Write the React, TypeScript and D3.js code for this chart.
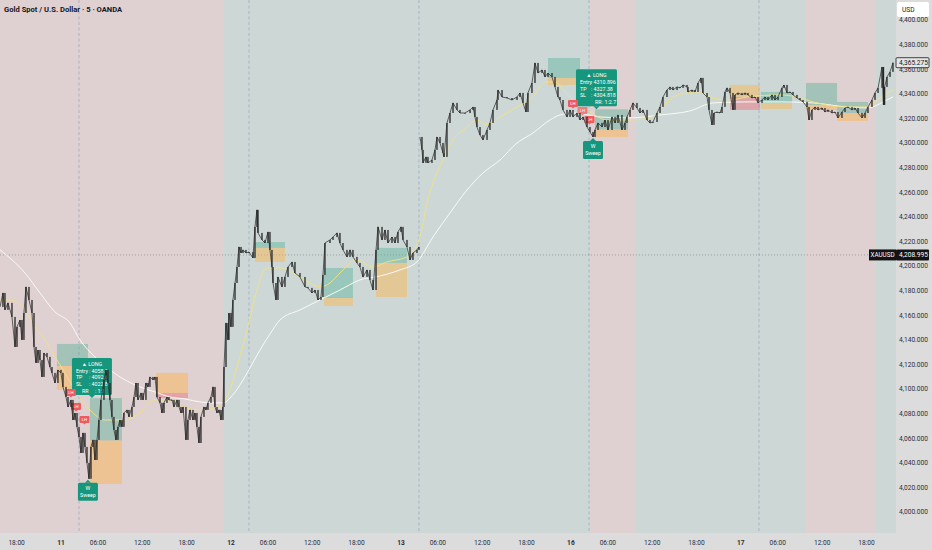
import * as d3 from 'd3'

// ---- data ----
const title = 'Gold Spot / U.S. Dollar · 5 · OANDA'

// trading hours since the "11" session open, price
const priceTrail: [number, number][] = [
  [-8.25,4166.7],[-7.85,4178.1],[-7.58,4164.3],[-7.17,4170.0],[-6.63,4158.6],[-6.22,4134.2],[-5.95,4150.5],[-5.55,4156.1],
  [-5.28,4139.9],[-5.01,4161.8],[-4.74,4183.0],[-4.33,4172.4],[-3.92,4161.8],[-3.65,4134.2],[-3.38,4121.2],[-3.11,4131.7],
  [-2.84,4123.6],[-2.57,4109.8],[-2.30,4129.3],[-1.89,4126.1],[-1.49,4117.9],[-1.22,4113.1],[-0.81,4104.9],[-0.41,4115.5],
  [0,4113.1],[0.27,4101.7],[0.68,4093.5],[0.95,4085.4],[1.35,4091.1],[1.62,4074.8],[1.89,4080.5],[2.17,4069.2],
  [2.44,4061.0],[2.71,4048.0],[2.98,4064.3],[3.25,4052.9],[3.52,4039.9],[3.79,4027.0],[4.06,4052.9],[4.33,4058.6],
  [4.60,4042.3],[4.87,4058.6],[5.14,4074.8],[5.41,4091.1],[5.82,4107.4],[6.09,4115.5],[6.36,4104.9],[6.63,4091.1],
  [6.90,4077.3],[7.17,4066.7],[7.44,4058.6],[7.71,4069.2],[7.98,4074.8],[8.25,4069.2],[8.52,4080.5],[8.93,4083.0],
  [9.20,4077.3],[9.61,4085.4],[9.88,4093.5],[10.15,4104.9],[10.42,4091.1],[10.83,4096.8],[11.10,4091.1],[11.50,4104.9],
  [11.77,4101.7],[12.04,4109.8],[12.45,4107.4],[12.72,4109.8],[12.99,4093.5],[13.40,4088.7],[13.67,4080.5],[13.94,4088.7],
  [14.34,4093.5],[14.61,4091.1],[15.02,4091.1],[15.29,4085.4],[15.70,4091.1],[15.97,4085.4],[16.24,4080.5],[16.51,4085.4],
  [16.91,4058.6],[17.18,4074.8],[17.46,4083.0],[17.86,4074.8],[18.13,4080.5],[18.40,4069.2],[18.67,4056.1],[18.94,4077.3],
  [19.35,4085.4],[19.62,4083.0],[19.89,4088.7],[20.30,4093.5],[20.57,4101.7],[20.84,4085.4],[21.11,4080.5],[21.38,4083.0],
  [21.65,4074.8],[21.92,4085.4],[22.06,4117.9],[22.33,4153.7],[22.60,4139.9],[22.73,4161.8],[23.00,4150.5],[23.27,4172.4],
  [23.55,4186.2],[23.82,4199.2],[24.09,4215.5],[24.36,4210.6],[24.63,4213.1],[25.03,4210.6],[25.44,4211.4],[25.98,4206.5],
  [26.25,4231.8],[26.52,4245.6],[26.66,4226.9],[27.20,4221.2],[27.60,4218.7],[28.01,4227.7],[28.28,4213.1],[28.55,4199.2],
  [28.69,4186.2],[29.09,4172.4],[29.36,4191.1],[29.90,4183.0],[30.31,4191.1],[30.72,4199.2],[31.26,4203.3],[31.66,4194.3],
  [32.34,4191.1],[33.02,4183.0],[33.42,4182.2],[33.96,4178.1],[34.37,4180.5],[34.78,4172.4],[35.18,4174.8],[35.45,4192.7],
  [35.72,4218.7],[36.40,4221.2],[36.81,4223.6],[37.35,4226.9],[37.75,4218.7],[38.16,4213.1],[38.70,4207.4],[39.11,4213.1],
  [39.51,4207.4],[40.05,4202.5],[40.46,4199.2],[40.87,4191.1],[41.41,4196.8],[41.81,4188.7],[42.22,4180.5],[42.63,4213.1],
  [42.90,4231.8],[43.44,4221.2],[43.84,4229.3],[44.25,4218.7],[44.79,4223.6],[45.20,4218.7],[45.60,4227.7],[46.01,4231.8],
  [46.28,4221.2],[46.82,4215.5],[47.23,4204.9],[47.63,4210.6],[48.17,4213.1],[48.44,4215.5],
  [48.58,4304.9],[48.85,4294.4],[48.99,4283.8],[49.39,4288.7],[49.66,4283.8],[50.20,4286.2],[50.61,4294.4],[50.88,4304.9],
  [51.29,4300.0],[51.69,4291.9],[51.83,4288.7],[52.23,4316.3],[52.64,4324.4],[53.05,4332.6],[53.59,4326.9],[53.99,4324.4],
  [54.67,4324.4],[55.35,4326.9],[55.75,4329.3],[56.02,4321.2],[56.29,4313.0],[56.70,4306.5],[57.10,4302.5],[57.65,4310.6],
  [58.05,4316.3],[58.46,4326.9],[59.00,4335.0],[59.14,4343.1],[59.68,4337.4],[60.35,4336.6],[61.03,4335.0],[61.71,4337.4],
  [62.11,4340.7],[62.52,4332.6],[62.92,4325.2],[63.19,4340.7],[63.73,4348.8],[64.14,4365.1],[64.55,4356.9],[65.09,4359.4],
  [65.49,4353.7],[65.90,4356.9],[66.44,4353.7],[66.85,4345.6],[67.25,4337.4],[67.52,4335.0],[67.93,4326.9],[68.47,4321.2],
  [68.88,4326.9],[69.28,4321.2],[69.82,4324.4],[70.23,4318.7],[70.64,4321.2],[71.18,4313.0],[71.58,4309.0],[71.99,4304.9],
  [72.26,4310.6],[72.67,4316.3],[73.21,4313.0],[73.61,4318.7],[74.02,4310.6],[74.56,4321.2],[74.97,4316.3],[75.37,4322.8],
  [75.91,4310.6],[76.32,4316.3],[76.59,4321.2],[77.00,4326.9],[77.40,4332.6],[77.94,4328.5],[78.35,4324.4],[78.75,4326.9],
  [79.30,4318.7],[79.70,4316.3],[80.11,4317.1],[80.65,4324.4],[81.06,4329.3],[81.46,4337.4],[82.00,4343.1],[82.41,4345.6],
  [82.81,4343.1],[83.36,4345.6],[83.76,4344.8],[84.17,4347.2],[84.71,4345.6],[84.84,4341.5],[85.39,4343.1],[85.79,4341.5],
  [86.20,4348.8],[86.60,4352.9],[86.87,4340.7],[87.42,4337.4],[87.69,4326.9],[88.09,4314.7],[88.36,4324.4],[88.77,4325.2],
  [89.17,4324.4],[89.45,4329.3],[89.85,4341.5],[90.12,4344.8],[90.53,4340.7],[90.93,4326.9],[91.20,4339.1],[91.61,4340.7],
  [92.15,4339.1],[92.56,4340.7],[92.96,4339.1],[93.50,4336.6],[93.91,4337.4],[94.32,4332.6],[94.86,4335.0],[95.26,4337.4],
  [95.67,4335.0],[96.21,4339.1],[96.62,4335.0],[97.02,4337.4],[97.56,4344.8],[97.83,4347.2],[98.24,4340.7],[98.65,4341.5],
  [99.05,4339.1],[99.59,4336.6],[100.00,4335.0],[100.41,4333.4],[100.95,4329.3],[101.22,4318.7],[101.62,4326.9],[102.03,4329.3],
  [102.44,4326.9],[102.98,4328.5],[103.38,4325.2],[103.79,4326.9],[104.33,4324.4],[104.74,4325.2],[105.14,4320.4],[105.68,4325.2],
  [106.09,4328.5],[106.50,4329.3],[107.04,4326.9],[107.44,4328.5],[107.85,4324.4],[108.39,4320.4],[108.80,4324.4],[109.20,4329.3],
  [109.74,4335.0],[110.15,4340.7],[110.56,4344.8],[111.10,4361.8],[111.30,4331.0],[111.45,4345.6],[111.77,4353.7],[112.18,4357.8],
  [112.58,4365.275],
]
const weekendGap = 48.5

const fastMa: [number, number][] = [
  [-8.25,4172.4],[-6.90,4172.4],[-4.87,4164.3],[-3.52,4150.5],[-2.17,4139.9],[-0.81,4126.1],[0.54,4113.1],[1.89,4099.2],
  [3.92,4083.0],[5.95,4074.8],[8.39,4074.8],[10.69,4080.5],[12.45,4091.1],[14.34,4091.1],[16.51,4085.4],[18.81,4083.0],
  [21.11,4085.4],[22.46,4093.5],[23.82,4117.9],[25.17,4148.0],[26.52,4180.5],[27.88,4198.4],[29.63,4198.4],[32.34,4191.1],
  [35.05,4183.0],[36.40,4186.2],[37.75,4194.3],[40.05,4204.9],[42.22,4199.2],[44.11,4203.3],[46.82,4207.4],[48.58,4223.6],
  [49.53,4251.3],[50.34,4267.5],[51.69,4286.2],[53.05,4302.5],[54.94,4313.0],[56.29,4318.7],[57.65,4314.7],[59.41,4321.2],
  [61.71,4329.3],[63.87,4337.4],[65.49,4349.6],[66.85,4349.6],[68.20,4341.5],[69.55,4333.4],[71.58,4325.2],[73.88,4318.7],
  [77.00,4318.7],[79.70,4320.4],[82.81,4337.4],[84.71,4340.7],[86.47,4341.5],[88.23,4336.6],[90.53,4335.0],[92.83,4337.4],
  [97.29,4339.1],[99.59,4337.4],[101.76,4333.4],[106.36,4329.3],[109.07,4329.3],[110.83,4336.6],[112.58,4343.1],
]

const slowMa: [number, number][] = [
  [-8.25,4213.1],[-4.87,4194.3],[-2.84,4178.1],[-0.81,4162.7],[1.22,4153.7],[2.57,4139.9],[4.60,4126.1],[6.63,4115.5],
  [8.66,4107.4],[10.69,4101.7],[12.72,4097.6],[14.75,4093.5],[16.78,4091.9],[18.81,4089.5],[20.84,4088.7],[22.06,4088.7],
  [22.87,4092.7],[24.22,4103.3],[25.57,4117.1],[26.93,4131.7],[28.28,4144.7],[29.63,4156.1],[32.34,4164.3],[35.05,4172.4],
  [37.75,4180.5],[40.46,4188.7],[43.17,4191.9],[45.87,4196.8],[48.17,4203.3],[50.34,4223.6],[52.64,4243.1],[54.94,4261.8],
  [57.10,4275.6],[59.41,4286.2],[61.71,4300.0],[63.87,4308.2],[66.17,4318.7],[67.52,4322.8],[69.55,4324.4],[72.94,4321.2],
  [77.00,4320.4],[81.06,4322.8],[85.12,4326.1],[88.23,4332.6],[92.83,4333.4],[97.29,4333.4],[101.76,4332.6],[106.36,4329.3],
  [109.07,4328.5],[111.77,4335.0],[112.58,4337.4],
]

// session bias bands: from hour, to hour
const sessions: { from: number; to: number; bias: 'bear' | 'bull' }[] = [
  { from: -8.25, to: 22.06, bias: 'bear' },
  { from: 22.06, to: 71.45, bias: 'bull' },
  { from: 71.45, to: 77.81, bias: 'bear' },
  { from: 77.81, to: 100.81, bias: 'bull' },
  { from: 100.81, to: 110.29, bias: 'bear' },
  { from: 110.29, to: 113, bias: 'bull' },
]
const dayOpens = [2.44, 25.44, 48.44, 71.45, 94.45]

// zones: upper part / lower part
const zones: { from: number; to: number; top: number; mid: number; bottom: number; side: 'long' | 'short' }[] = [
  { from: -0.54, to: 3.65, top: 4136.6, mid: 4118.7, bottom: 4099.2, side: 'long' },
  { from: 3.92, to: 8.25, top: 4092.6, mid: 4058.1, bottom: 4022.8, side: 'long' },
  { from: 12.86, to: 17.19, top: 4113.1, mid: 4096.8, bottom: 4092.7, side: 'short' },
  { from: 26.25, to: 30.31, top: 4219.5, mid: 4214.7, bottom: 4203.3, side: 'long' },
  { from: 35.59, to: 39.51, top: 4198.4, mid: 4174.0, bottom: 4167.5, side: 'long' },
  { from: 42.63, to: 46.82, top: 4214.7, mid: 4202.5, bottom: 4174.8, side: 'long' },
  { from: 65.90, to: 70.23, top: 4369.1, mid: 4352.9, bottom: 4347.2, side: 'long' },
  { from: 72.26, to: 76.73, top: 4327.38, mid: 4310.896, bottom: 4304.818, side: 'long' },
  { from: 90.53, to: 94.59, top: 4347.2, mid: 4337.4, bottom: 4326.9, side: 'short' },
  { from: 94.72, to: 98.92, top: 4341.5, mid: 4332.6, bottom: 4327.7, side: 'long' },
  { from: 100.81, to: 105.01, top: 4348.8, mid: 4330.9, bottom: 4326.9, side: 'long' },
  { from: 105.01, to: 109.20, top: 4333.4, mid: 4324.4, bottom: 4317.9, side: 'long' },
]

const signals = [
  { hour: 4.19, tp: 4092.6, rows: [['Entry', '4058.1'], ['TP', '4092.6'], ['SL', '4022.8']], rr: '1:1' },
  { hour: 72.46, tp: 4327.38, rows: [['Entry', '4310.896'], ['TP', '4327.38'], ['SL', '4304.818']], rr: '1:2.7' },
]
const sweeps = [
  { hour: 3.65, low: 4027.0 },
  { hour: 71.99, low: 4304.9 },
]
const lhTags: [number, number][] = [
  [1.35, 4097.2], [2.03, 4085.8], [3.18, 4075.2],
  [69.28, 4332.2], [70.57, 4326.5], [71.52, 4319.1],
]

const priceTicks = [4000, 4020, 4040, 4060, 4080, 4100, 4120, 4140, 4160, 4180, 4200,
  4220, 4240, 4260, 4280, 4300, 4320, 4340, 4360, 4380, 4400]
const timeTicks: { hour: number; label: string; day?: boolean }[] = [
  { hour: -6, label: '18:00' }, { hour: 0, label: '11', day: true }, { hour: 5, label: '06:00' },
  { hour: 11, label: '12:00' }, { hour: 17, label: '18:00' }, { hour: 23, label: '12', day: true },
  { hour: 28, label: '06:00' }, { hour: 34, label: '12:00' }, { hour: 40, label: '18:00' },
  { hour: 46, label: '13', day: true }, { hour: 51, label: '06:00' }, { hour: 57, label: '12:00' },
  { hour: 63, label: '18:00' }, { hour: 69, label: '16', day: true }, { hour: 74, label: '06:00' },
  { hour: 80, label: '12:00' }, { hour: 86, label: '18:00' }, { hour: 92, label: '17', day: true },
  { hour: 97, label: '06:00' }, { hour: 103, label: '12:00' }, { hour: 109, label: '18:00' },
]
const markerPrice = 4208.995
const lastPrice = 4365.275

// ---- layout ----
const W = 932
const H = 550
const plotR = 896
const plotB = 533
const font = 'Roboto, "Noto Sans", sans-serif'

const bandFill = { bear: '#dfd0d1', bull: '#cdd8d6' }
const zoneFill = {
  long: ['rgba(80,176,149,0.42)', 'rgba(255,180,72,0.45)'],
  short: ['rgba(255,180,72,0.45)', 'rgba(240,95,105,0.4)'],
}
const signalGreen = '#16967d'
const tagRed = '#ef5a5f'
const candleInk = '#262626'

export default function App() {
  const x = d3.scaleLinear().domain([-8.25, 112.99]).range([0, plotR])
  const y = d3.scaleLinear().domain([4000, 4400]).range([512, 20])
  const fmt = d3.format(',.3f')

  const pricePath = d3.line<[number, number]>()
    .defined(d => d[0] !== weekendGap)
    .x(d => x(d[0])).y(d => y(d[1]))
  const trailWithGap: [number, number][] = []
  priceTrail.forEach((p, i) => {
    if (i > 0 && priceTrail[i - 1][0] < weekendGap && p[0] > weekendGap) trailWithGap.push([weekendGap, 0])
    trailWithGap.push(p)
  })
  const maPath = d3.line<[number, number]>().x(d => x(d[0])).y(d => y(d[1])).curve(d3.curveMonotoneX)

  const candles = priceTrail.slice(1).map((p, i) => {
    const prev = priceTrail[i]
    if (prev[0] < weekendGap && p[0] > weekendGap) return null
    const y0 = y(prev[1]), y1 = y(p[1])
    return { cx: x(p[0]), top: Math.min(y0, y1), h: Math.max(0.8, Math.abs(y1 - y0)) }
  }).filter(Boolean) as { cx: number; top: number; h: number }[]

  return (
    <div style={{ position: 'absolute', left: 0, top: 0 }}>
      <svg width={W} height={H} style={{ display: 'block', fontFamily: font }}>
        <defs>
          <clipPath id="plot"><rect x={0} y={0} width={plotR} height={plotB} /></clipPath>
        </defs>
        <rect width={W} height={H} fill="#dcdcdc" />
        <g clipPath="url(#plot)">
          {sessions.map((s, i) => (
            <rect key={i} x={x(s.from)} y={0} width={x(s.to) - x(s.from)} height={plotB} fill={bandFill[s.bias]} />
          ))}
          {dayOpens.map(h => (
            <line key={h} x1={x(h)} x2={x(h)} y1={0} y2={plotB} stroke="#7f93b8" strokeOpacity={0.85}
              strokeWidth={0.6} strokeDasharray="3,2.5" />
          ))}
          <line x1={0} x2={plotR} y1={y(markerPrice)} y2={y(markerPrice)} stroke="#8a8a8a" strokeWidth={0.7} strokeDasharray="1,2" />

          {zones.map((z, i) => (
            <g key={i}>
              <rect x={x(z.from)} y={y(z.top)} width={x(z.to) - x(z.from)} height={y(z.mid) - y(z.top)} fill={zoneFill[z.side][0]} />
              <rect x={x(z.from)} y={y(z.mid)} width={x(z.to) - x(z.from)} height={y(z.bottom) - y(z.mid)} fill={zoneFill[z.side][1]} />
            </g>
          ))}

          <path d={maPath(slowMa) ?? ''} fill="none" stroke="#fafaf5" strokeWidth={1} />
          <path d={maPath(fastMa) ?? ''} fill="none" stroke="#efe08a" strokeWidth={1} />

          {signals.map((s, i) => {
            const w = i === 0 ? 40 : 41
            const h = 37
            const cx = x(s.hour)
            const bottom = y(s.tp) - 3
            const left = cx - w / 2
            const top = bottom - h
            return (
              <g key={i} fill="#fff" fontSize={5.3}>
                <rect x={left} y={top} width={w} height={h} rx={1.5} fill={signalGreen} />
                <path d={`M${cx - 3},${bottom} L${cx},${bottom + 3} L${cx + 3},${bottom} Z`} fill={signalGreen} />
                <text x={cx} y={top + 7.5} textAnchor="middle">▲ LONG</text>
                {s.rows.map((r, j) => (
                  <g key={j}>
                    <text x={left + 4} y={top + 14.5 + j * 6.8}>{r[0]}</text>
                    <text x={left + (i === 0 ? 17 : 15)} y={top + 14.5 + j * 6.8}>: {r[1]}</text>
                  </g>
                ))}
                <text x={left + (i === 0 ? 10 : 19)} y={top + 34.5}>RR</text>
                <text x={left + (i === 0 ? 23 : 26)} y={top + 34.5}>: {s.rr}</text>
              </g>
            )
          })}

          {lhTags.map((t, i) => {
            const cx = x(t[0]), cy = y(t[1])
            return (
              <g key={i} opacity={i === 4 ? 0.7 : 1}>
                <rect x={cx - 5} y={cy - 3.5} width={10} height={7} rx={1} fill={tagRed} />
                <path d={`M${cx - 1.5},${cy + 3.5} L${cx},${cy + 5} L${cx + 1.5},${cy + 3.5} Z`} fill={tagRed} />
                <text x={cx} y={cy + 1.6} textAnchor="middle" fontSize={4.3} fill="#fff">LH</text>
              </g>
            )
          })}

          <g>
            {candles.map((c, i) => (
              <rect key={i} x={c.cx - 0.65} y={c.top} width={1.3} height={c.h} fill={candleInk} />
            ))}
            <path d={pricePath(trailWithGap) ?? ''} fill="none" stroke={candleInk} strokeWidth={0.7} />
          </g>

          {sweeps.map((s, i) => {
            const cx = x(s.hour)
            const top = y(s.low) + 4
            return (
              <g key={i}>
                <path d={`M${cx - 3},${top} L${cx},${top - 3} L${cx + 3},${top} Z`} fill={signalGreen} />
                <rect x={cx - 10} y={top} width={20} height={18} rx={1.5} fill={signalGreen} />
                <text x={cx} y={top + 7.5} textAnchor="middle" fontSize={5.3} fill="#fff">W</text>
                <text x={cx} y={top + 14.5} textAnchor="middle" fontSize={5.3} fill="#fff">Sweep</text>
              </g>
            )
          })}
        </g>

        <text x={4} y={12} fontSize={7.6} fontWeight="bold" fill="#131722">{title}</text>

        {/* price axis */}
        {priceTicks.map(p => (
          <text key={p} x={899} y={y(p) + 2.4} fontSize={6.6} fill="#2a2e39">{fmt(p)}</text>
        ))}
        <rect x={897} y={2} width={32} height={15} rx={2} fill="#fff" />
        <text x={902} y={12} fontSize={6.6} fill="#131722">USD</text>

        <rect x={896} y={y(lastPrice) - 5} width={33} height={10} rx={1} fill="#e6e6e6" stroke="#131722" strokeWidth={0.8} />
        <text x={899} y={y(lastPrice) + 2.4} fontSize={6.6} fill="#131722">{fmt(lastPrice)}</text>

        <rect x={869} y={y(markerPrice) - 5.5} width={27} height={11} fill="#131313" />
        <text x={882.5} y={y(markerPrice) + 2.4} fontSize={6.3} fill="#fff" textAnchor="middle">XAUUSD</text>
        <rect x={896} y={y(markerPrice) - 5.5} width={33} height={11} rx={1} fill="#131313" />
        <text x={899} y={y(markerPrice) + 2.4} fontSize={6.6} fill="#fff">{fmt(markerPrice)}</text>

        {/* time axis */}
        {timeTicks.map(t => (
          <text key={t.hour} x={x(t.hour)} y={545} fontSize={6.6} textAnchor="middle"
            fill="#2a2e39" fontWeight={t.day ? 'bold' : 'normal'}>{t.label}</text>
        ))}
      </svg>
    </div>
  )
}
